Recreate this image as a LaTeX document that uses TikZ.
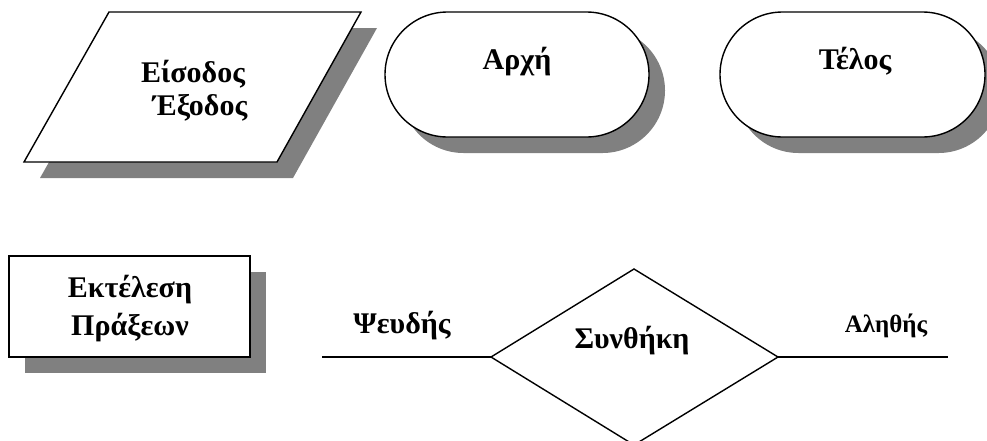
\documentclass[tikz,border=0pt]{standalone}
\usepackage{fontspec}
\setmainfont{Liberation Serif}
\begin{document}
\begin{tikzpicture}[x=1pt,y=-1pt,
  outline/.style={draw=black,line width=1.4pt,fill=white,line join=miter},
  shadowfill/.style={fill=black!50,draw=none},
  lbl/.style={inner sep=0pt,anchor=base,font=\fontsize{30}{30}\selectfont\bfseries},
  smalllbl/.style={inner sep=0pt,anchor=base,font=\fontsize{25}{25}\selectfont\bfseries},
  conn/.style={draw=black,line width=1.8pt}]
\useasboundingbox (0,0) rectangle (987,440);
% Parallelogram (input/output)
\fill[shadowfill,shift={(16,16)}] (109,12) -- (361,12) -- (277,162) -- (24,162) -- cycle;
\draw[outline] (109,12) -- (361,12) -- (277,162) -- (24,162) -- cycle;
\node[lbl] (io1) at (193,82) {Είσοδος};
\node[lbl] (io2) at (200,115) {Έξοδος};
% Start terminal
\fill[shadowfill,rounded corners=62.5pt] (401,28) rectangle (665,153);
\draw[outline,rounded corners=62.5pt] (385,12) rectangle (649,137);
\node[lbl] (start) at (517,69) {Αρχή};
% End terminal
\fill[shadowfill,rounded corners=62.5pt] (736,28) rectangle (1001,153);
\draw[outline,rounded corners=62.5pt] (720,12) rectangle (985,137);
\node[lbl] (end) at (855,69) {Τέλος};
% Process box
\fill[shadowfill] (25,272) rectangle (266,373);
\draw[outline] (9,256) rectangle (250,357);
\node[lbl] (p1) at (130,297) {Εκτέλεση};
\node[lbl] (p2) at (130,335) {Πράξεων};
% Decision diamond
\coordinate (dt) at (634,269);
\coordinate (dr) at (778,357);
\coordinate (db) at (634,445);
\coordinate (dl) at (491,357);
\draw[outline] (dt) -- (dr) -- (db) -- (dl) -- cycle;
\node[lbl] (cond) at (632,348) {Συνθήκη};
\coordinate (fend) at (322,357);
\coordinate (tend) at (948,357);
\draw[conn] (fend) -- (dl);
\draw[conn] (dr) -- (tend);
\node[lbl] (false) at (402,333) {Ψευδής};
\node[smalllbl] (true) at (886,332) {Αληθής};
\end{tikzpicture}
\end{document}
